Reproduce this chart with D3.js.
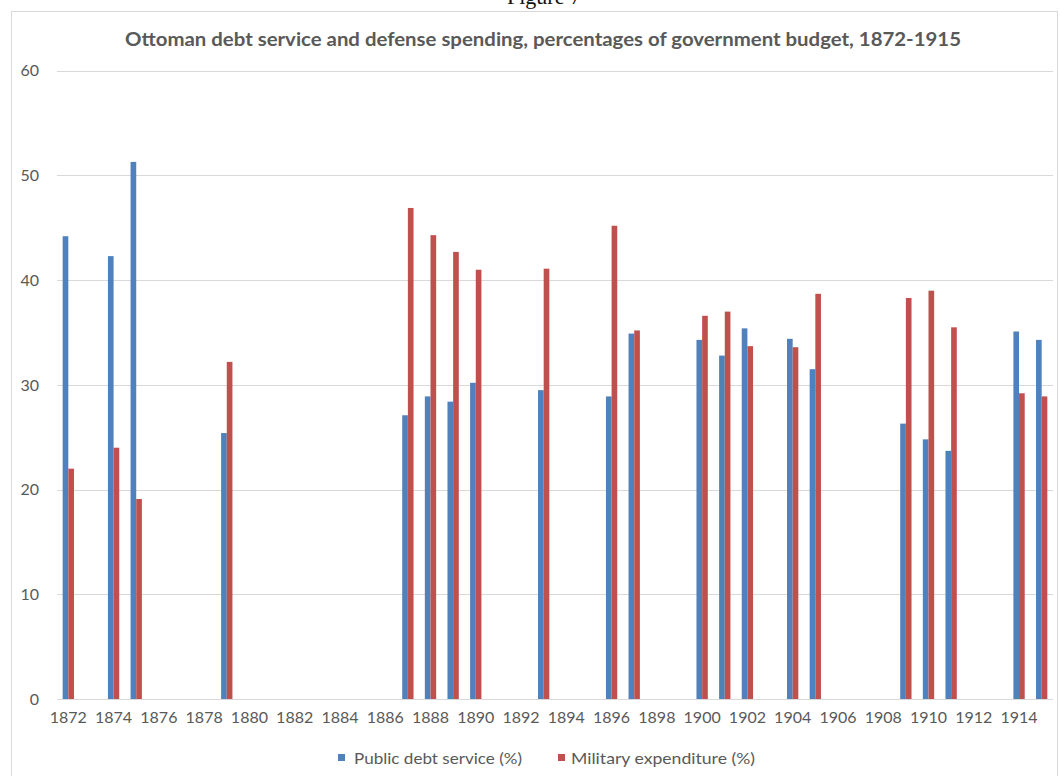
<!DOCTYPE html>
<html>
<head>
<meta charset="utf-8">
<script src="https://cdn.jsdelivr.net/npm/d3@7"></script>
<style>
  html, body { margin: 0; padding: 0; background: #ffffff; }
  svg { display: block; }
  text { font-family: Lato, "Open Sans", sans-serif; fill: #595959; }
</style>
</head>
<body>
<svg id="chart" width="1060" height="776"></svg>
<script>
// Ottoman budget shares, 1872-1915 (null = no figure for that year)
const years = d3.range(1872, 1916);
const debtService = [
  44.2, null, 42.3, 51.3, null, null, null, 25.4, null, null,
  null, null, null, null, null, 27.1, 28.9, 28.4, 30.2, null,
  null, 29.5, null, null, 28.9, 34.9, null, null, 34.3, 32.8,
  35.4, null, 34.4, 31.5, null, null, null, 26.3, 24.8, 23.7,
  null, null, 35.1, 34.3
];
const military = [
  22.0, null, 24.0, 19.1, null, null, null, 32.2, null, null,
  null, null, null, null, null, 46.9, 44.3, 42.7, 41.0, null,
  null, 41.1, null, null, 45.2, 35.2, null, null, 36.6, 37.0,
  33.7, null, 33.6, 38.7, null, null, null, 38.3, 39.0, 35.5,
  null, null, 29.2, 28.9
];
const seriesNames = ["Public debt service (%)", "Military expenditure (%)"];
const seriesColors = ["#4f81bd", "#c0504d"];
const yTicks = [0, 10, 20, 30, 40, 50, 60];
const xTickYears = d3.range(1872, 1916, 2);
const titleText = "Ottoman debt service and defense spending, percentages of government budget, 1872-1915";
const captionText = "Figure 7";

const svg = d3.select("#chart");

// page caption above the chart frame
svg.append("text")
  .attr("x", 544).attr("y", 4)
  .attr("text-anchor", "middle")
  .style("font-family", "'Liberation Serif', serif")
  .style("font-size", "22px")
  .style("fill", "#111")
  .text(captionText);

// chart frame
svg.append("rect")
  .attr("x", 11.5).attr("y", 11.5)
  .attr("width", 1046).attr("height", 800)
  .attr("fill", "#fff")
  .attr("stroke", "#d9d9d9");

const x = d3.scaleBand()
  .domain(years)
  .range([57, 1053])
  .paddingInner(0.5)
  .paddingOuter(0.25);

const xs = d3.scaleBand()
  .domain([0, 1])
  .range([0, x.bandwidth()]);

const y = d3.scaleLinear()
  .domain([0, 60])
  .range([699, 70.8]);

// gridlines
svg.append("g")
  .selectAll("line")
  .data(yTicks)
  .join("line")
  .attr("x1", 57).attr("x2", 1053)
  .attr("y1", d => Math.round(y(d)) + 0.5)
  .attr("y2", d => Math.round(y(d)) + 0.5)
  .attr("stroke", "#d9d9d9")
  .attr("stroke-width", 1.2);

// y axis labels
const yAxis = d3.axisLeft(y).tickValues(yTicks).tickSize(0).tickPadding(0);
svg.append("g")
  .attr("transform", "translate(39,0)")
  .call(yAxis)
  .call(g => g.select(".domain").remove())
  .call(g => g.selectAll("text")
    .style("font-family", "Lato, sans-serif")
    .style("font-size", "16px")
    .attr("fill", "#595959"));

// x axis labels
const xAxis = d3.axisBottom(x).tickValues(xTickYears).tickSize(0).tickPadding(0);
svg.append("g")
  .attr("transform", "translate(0,712)")
  .call(xAxis)
  .call(g => g.select(".domain").remove())
  .call(g => g.selectAll("text")
    .style("font-family", "Lato, sans-serif")
    .style("font-size", "16px")
    .attr("fill", "#595959"));

// bars
const rows = years.map((yr, i) => ({ year: yr, vals: [debtService[i], military[i]] }));
const groups = svg.append("g")
  .selectAll("g")
  .data(rows)
  .join("g")
  .attr("transform", d => `translate(${x(d.year)},0)`);

groups.selectAll("rect")
  .data(d => d.vals.map((v, k) => ({ k, v })).filter(e => e.v !== null))
  .join("rect")
  .attr("x", e => xs(e.k))
  .attr("width", xs.bandwidth())
  .attr("y", e => y(e.v))
  .attr("height", e => y(0) - y(e.v))
  .attr("fill", e => seriesColors[e.k]);

// title
svg.append("text")
  .attr("x", 543).attr("y", 46)
  .attr("text-anchor", "middle")
  .attr("textLength", 836)
  .attr("lengthAdjust", "spacingAndGlyphs")
  .style("font-size", "18px")
  .style("font-weight", "bold")
  .text(titleText);

// legend
const legendItems = [
  { sx: 338, tx: 354, len: 168 },
  { sx: 558, tx: 571, len: 184 }
];
const legend = svg.append("g");
legendItems.forEach((it, k) => {
  legend.append("rect")
    .attr("x", it.sx).attr("y", 754)
    .attr("width", 7).attr("height", 7)
    .attr("fill", seriesColors[k]);
  legend.append("text")
    .attr("x", it.tx).attr("y", 763.5)
    .attr("textLength", it.len)
    .attr("lengthAdjust", "spacingAndGlyphs")
    .style("font-size", "15px")
    .text(seriesNames[k]);
});
</script>
</body>
</html>
